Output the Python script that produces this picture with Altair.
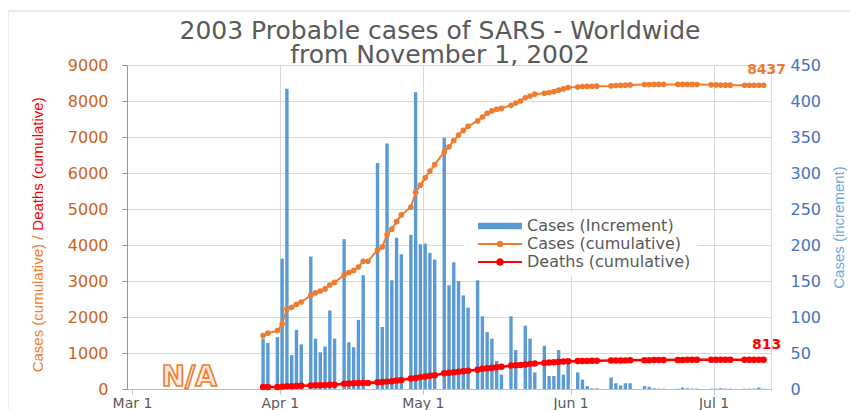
import altair as alt
import pandas as pd

# ---------------- data ----------------
report_dates = [
    "2003-03-28", "2003-03-29", "2003-03-31",
    "2003-04-01", "2003-04-02", "2003-04-03", "2003-04-04", "2003-04-05",
    "2003-04-07", "2003-04-08", "2003-04-09", "2003-04-10", "2003-04-11", "2003-04-12",
    "2003-04-14", "2003-04-15", "2003-04-16", "2003-04-17", "2003-04-18", "2003-04-19",
    "2003-04-21", "2003-04-22", "2003-04-23", "2003-04-24", "2003-04-25", "2003-04-26",
    "2003-04-28", "2003-04-29", "2003-04-30", "2003-05-01", "2003-05-02", "2003-05-03",
    "2003-05-05", "2003-05-06", "2003-05-07", "2003-05-08", "2003-05-09", "2003-05-10",
    "2003-05-12", "2003-05-13", "2003-05-14", "2003-05-15", "2003-05-16", "2003-05-17",
    "2003-05-19", "2003-05-20", "2003-05-21", "2003-05-22", "2003-05-23", "2003-05-24",
    "2003-05-26", "2003-05-27", "2003-05-28", "2003-05-29", "2003-05-30", "2003-05-31",
    "2003-06-02", "2003-06-03", "2003-06-04", "2003-06-05", "2003-06-06",
    "2003-06-09", "2003-06-10", "2003-06-11", "2003-06-12", "2003-06-13",
    "2003-06-16", "2003-06-17", "2003-06-18", "2003-06-19", "2003-06-20",
    "2003-06-23", "2003-06-24", "2003-06-25", "2003-06-26", "2003-06-27",
    "2003-06-30", "2003-07-01", "2003-07-02", "2003-07-03", "2003-07-04",
    "2003-07-07", "2003-07-08", "2003-07-09", "2003-07-10", "2003-07-11",
]

new_cases = [
    70, 64, 72,
    181, 417, 47, 82, 62,
    184, 70, 51, 59, 109, 70,
    208, 65, 58, 96, 158, 0,
    314, 86, 341, 151, 210, 187,
    214, 412, 201, 202, 189, 180,
    349, 144, 176, 150, 130, 113,
    151, 101, 79, 70, 39, 20,
    101, 54, 0, 88, 70, 23,
    60, 18, 18, 54, 20, 42,
    23, 13, 4, 1, 1,
    16, 8, 5, 8, 8,
    4, 3, 1, 0.5, 0.5,
    0.5, 2, 1, 0.5, 0.5,
    0.5, 0.5, 1, 0.5, 0.5,
    0.5, 0.5, 0.5, 2, 0.5,
]

cum_cases = [
    1485, 1550, 1622,
    1804, 2223, 2270, 2353, 2416,
    2601, 2671, 2722, 2781, 2890, 2960,
    3169, 3235, 3293, 3389, 3547, 3547,
    3861, 3947, 4288, 4439, 4649, 4836,
    5050, 5462, 5663, 5865, 6054, 6234,
    6583, 6727, 6903, 7053, 7183, 7296,
    7447, 7555, 7660, 7725, 7770, 7795,
    7880, 7945, 8000, 8090, 8140, 8190,
    8215, 8235, 8260, 8300, 8335, 8375,
    8390, 8400, 8405, 8410, 8412,
    8420, 8428, 8432, 8440, 8447,
    8455, 8458, 8460, 8461, 8460,
    8460, 8461, 8461, 8460, 8458,
    8450, 8447, 8442, 8440, 8439,
    8437, 8437, 8437, 8437, 8437,
]

cum_deaths = [
    53, 56, 58,
    62, 78, 79, 84, 89,
    98, 103, 106, 111, 116, 119,
    144, 154, 159, 165, 170, 170,
    185, 195, 205, 218, 235, 250,
    290, 305, 330, 350, 365, 380,
    435, 450, 465, 480, 495, 509,
    537, 560, 575, 590, 605, 620,
    650, 662, 666, 682, 698, 707,
    722, 735, 744, 755, 766, 772,
    775, 779, 781, 783, 784,
    790, 792, 793, 795, 799,
    801, 801, 804, 805, 806,
    808, 808, 810, 810, 812,
    812, 812, 812, 812, 812,
    813, 813, 813, 813, 813,
]

series_names = ["Cases (Increment)", "Cases (cumulative)", "Deaths (cumulative)"]
series_colors = ["#5B9BD5", "#ED7D31", "#FF0000"]
x_tick_dates = ["2003-03-01", "2003-04-01", "2003-05-01", "2003-06-01", "2003-07-01"]
x_domain_dates = ["2003-03-01", "2003-07-12"]
left_ticks = [0, 1000, 2000, 3000, 4000, 5000, 6000, 7000, 8000, 9000]
right_ticks = [0, 50, 100, 150, 200, 250, 300, 350, 400, 450]
title_lines = ["2003 Probable cases of SARS - Worldwide", "from November 1, 2002"]
left_title_parts = ["Cases (cumulative) /", "Deaths (cumulative)"]
right_title = "Cases (increment)"
na_label = "N/A"
na_date = "2003-03-13"
na_value = 300

# ---------------- helpers / tables ----------------
def dt(s):
    y, m, d = (int(v) for v in s.split("-"))
    return alt.DateTime(year=y, month=m, date=d, utc=True)

stamps = [d + "T12:00:00Z" for d in report_dates]

bars_df = pd.DataFrame({"date": stamps, "inc": new_cases})
cases_df = pd.DataFrame({"date": stamps, "value": cum_cases})
deaths_df = pd.DataFrame({"date": stamps, "value": cum_deaths})
cases_end_df = pd.DataFrame({"date": [stamps[-1]], "value": [cum_cases[-1]], "label": [str(cum_cases[-1])]})
deaths_end_df = pd.DataFrame({"date": [stamps[-1]], "value": [cum_deaths[-1]], "label": [str(cum_deaths[-1])]})
legend_df = pd.DataFrame({
    "date": ["2003-02-01T00:00:00Z"] * 3,
    "value": [0, 0, 0],
    "series": series_names,
})
na_df = pd.DataFrame({"date": [na_date + "T00:00:00Z"], "value": [na_value], "label": [na_label]})
one_row = pd.DataFrame({"k": [0]})

GRID = "#D9D9D9"
FONT = "DejaVu Sans"

x_enc = alt.X(
    "date:T",
    scale=alt.Scale(type="utc", domain=[dt(s) for s in x_domain_dates]),
    axis=alt.Axis(
        values=[dt(s) for s in x_tick_dates],
        labelExpr="utcFormat(datum.value, '%b %-d')",
        title=None, grid=True, gridColor=GRID,
        gridOpacity=alt.condition("utcmonth(datum.value) == 2", alt.value(0), alt.value(1)),
        domainColor="#BFBFBF", tickColor="#BFBFBF", tickSize=5,
        labelColor="#595959", labelFont=FONT, labelFontSize=14, labelPadding=2,
    ),
)

y_right = alt.Y(
    "inc:Q",
    scale=alt.Scale(domain=[0, 450], nice=False),
    axis=alt.Axis(
        orient="right", values=right_ticks, grid=False, domain=False, ticks=False,
        labelColor="#4472C4", labelFont=FONT, labelFontSize=16, labelPadding=19,
        title=right_title, titleColor="#6FA8DC", titleFont="Liberation Sans",
        titleFontSize=15, titleFontWeight="normal", titleAngle=270,
        titleBaseline="top", titlePadding=11,
    ),
)

y_left = alt.Y(
    "value:Q",
    scale=alt.Scale(domain=[0, 9000], nice=False),
    axis=alt.Axis(
        orient="left", values=left_ticks, format="d", grid=True, gridColor=GRID,
        domainColor="#ED7D31", tickColor="#ED7D31", tickSize=5,
        labelColor="#C8641E", labelFont=FONT, labelFontSize=16, labelPadding=14,
        title=None,
    ),
)

color_scale = alt.Scale(domain=series_names, range=series_colors)

shape_paths = [
    "M-2.75,-0.42H2.75V0.42H-2.75Z",
    "M-2.75,-0.12H2.75V0.12H-2.75Z M0.42,0A0.42,0.42 0 1 1 -0.42,0A0.42,0.42 0 1 1 0.42,0Z",
    "M-2.75,-0.14H2.75V0.14H-2.75Z M0.48,0A0.48,0.48 0 1 1 -0.48,0A0.48,0.48 0 1 1 0.48,0Z",
]

legend = alt.Legend(
    title=None, orient="none", legendX=337, legendY=147,
    symbolSize=256, symbolOffset=22, labelOffset=19, symbolStrokeWidth=0,
    labelFont=FONT, labelFontSize=16, labelColor="#595959", labelLimit=400,
    fillColor="white", padding=6, rowPadding=2,
)

# light frame around the whole figure (left and top edges, as in the reference)
frame_left = alt.Chart(one_row).mark_rule(color="#D9D9D9", strokeWidth=1).encode(
    x=alt.value(-119), y=alt.value(-54), y2=alt.value(345)
)
frame_top = alt.Chart(one_row).mark_rule(color="#D9D9D9", strokeWidth=1).encode(
    x=alt.value(-119), x2=alt.value(731), y=alt.value(-54)
)

bars = alt.Chart(bars_df).mark_bar(size=3.4, color=series_colors[0]).encode(
    x=x_enc, y=y_right
)

cases_line = alt.Chart(cases_df).mark_line(color=series_colors[1], strokeWidth=2).encode(x=x_enc, y=y_left)
cases_dots = alt.Chart(cases_df).mark_circle(color=series_colors[1], size=32, opacity=1).encode(x=x_enc, y=y_left)
deaths_line = alt.Chart(deaths_df).mark_line(color=series_colors[2], strokeWidth=2.6).encode(x=x_enc, y=y_left)
deaths_dots = alt.Chart(deaths_df).mark_circle(color=series_colors[2], size=42, opacity=1).encode(x=x_enc, y=y_left)

legend_carrier = alt.Chart(legend_df).mark_point(filled=True, opacity=1, clip=True).encode(
    x=x_enc, y=y_left,
    color=alt.Color("series:N", scale=color_scale, legend=legend),
    shape=alt.Shape("series:N", scale=alt.Scale(domain=series_names, range=shape_paths), legend=legend),
)

cases_end = alt.Chart(cases_end_df).mark_text(
    dy=-15, dx=3, font=FONT, fontSize=14, fontWeight="bold", color=series_colors[1]
).encode(x=x_enc, y=y_left, text="label:N")
deaths_end = alt.Chart(deaths_end_df).mark_text(
    dy=-15, dx=3, font=FONT, fontSize=14, fontWeight="bold", color=series_colors[2]
).encode(x=x_enc, y=y_left, text="label:N")

na_text = alt.Chart(na_df).mark_text(
    font=FONT, fontSize=28, fontWeight="bold", fill="#FDE9D9",
    stroke="#ED7D31", strokeWidth=1.6, baseline="middle",
).encode(x=x_enc, y=y_left, text="label:N")

ytitle_a = alt.Chart(pd.DataFrame({"t": [left_title_parts[0]]})).mark_text(
    angle=270, font="Liberation Sans", fontSize=15, color="#ED7D31", align="center", baseline="middle"
).encode(x=alt.value(-89), y=alt.value(239), text="t:N")

ytitle_b = alt.Chart(pd.DataFrame({"t": [left_title_parts[1]]})).mark_text(
    angle=270, font="Liberation Sans", fontSize=15, color="#FF0000", align="center", baseline="middle"
).encode(x=alt.value(-89), y=alt.value(99), text="t:N")

left_layer = alt.layer(
    cases_line, cases_dots, deaths_line, deaths_dots, legend_carrier,
    cases_end, deaths_end, na_text, ytitle_a, ytitle_b,
)

chart = alt.layer(frame_left, frame_top, bars, left_layer).resolve_scale(y="independent").properties(
    width=644, height=324,
    padding={"left": 119, "top": 57, "right": 79, "bottom": 22},
    autosize=alt.AutoSizeParams(type="none"),
    title=alt.Title(
        title_lines, font=FONT, fontSize=25, fontWeight="normal", color="#595959",
        anchor="middle", frame="group", dx=-9, offset=-57, lineHeight=24,
    ),
).configure_view(stroke=None).configure(background="white")

chart.save("out.html", embed_options={"renderer": "svg", "actions": False})
